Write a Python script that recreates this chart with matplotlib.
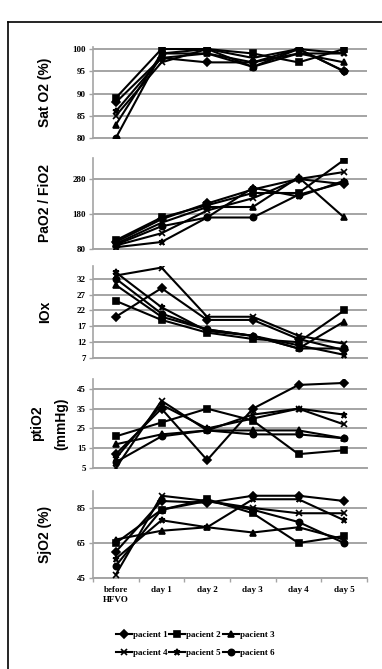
import matplotlib
matplotlib.use('Agg')
import matplotlib.pyplot as plt
from matplotlib.lines import Line2D
import numpy as np

DAYS = ['before\nHFVO', 'day 1', 'day 2', 'day 3', 'day 4', 'day 5']
PACIENTS = ['pacient 1', 'pacient 2', 'pacient 3', 'pacient 4', 'pacient 5', 'pacient 6']
MARKERS = ['D', 's', '^', 'x', '*', 'o']

# values, one row per pacient
SAT_O2 = [
   [88, 98, 97, 97, 100, 95],
   [89, 100, 100, 99, 97, 100],
   [83, 99, 99, 96, 99, 97],
   [85, 97, 100, 98, 100, 99],
   [86, 98, 99, 97, 99, 99],
   [80, 99, 100, 96, 100, 95],
]
PAO2_FIO2 = [
   [100, 165, 210, 250, 280, 265],
   [105, 170, 205, 240, 240, 335],
   [95, 155, 200, 200, 285, 170],
   [90, 125, 190, 225, 280, 300],
   [85, 100, 170, 255, 230, 275],
   [92, 145, 170, 170, 235, 270],
]
IOX = [
   [20, 29, 19, 19, 13, 9.5],
   [25, 19, 15, 13, 12, 22],
   [30, 20, 16, 14, 10, 18.5],
   [33, 35.5, 20, 20, 14, 11.5],
   [34, 23, 15.5, 14, 11, 8],
   [32, 21, 16, 14, 10, 10],
]
PTIO2 = [
   [12, 35, 9, 35, 47, 48],
   [21, 28, 35, 29, 12, 14],
   [17, 22, 24, 24, 24, 20],
   [5, 39, 24, 32, 35, 27],
   [10, 37, 25, 30, 35, 32],
   [8, 21, 24, 22, 22, 20],
]
SJO2 = [
   [60, 89, 88, 92, 92, 89],
   [65, 84, 90, 82, 65, 69],
   [67, 72, 74, 71, 74, 67],
   [47, 92, 89, 85, 82, 82],
   [56, 78, 74, 90, 90, 78],
   [52, 84, 89, 84, 77, 65],
]

# (data, ylabel, yticks, ylim, top px, bottom px)
PANELS = [
   (SAT_O2, 'Sat O2 (%)', [80, 85, 90, 95, 100], (80, 100.5), 46.8, 138),
   (PAO2_FIO2, 'PaO2 / FiO2', [80, 180, 280], (80, 340), 158, 249),
   (IOX, 'IOx', [7, 12, 17, 22, 27, 32], (7, 36), 266, 358),
   (PTIO2, 'ptiO2\n(mmHg)', [5, 15, 25, 35, 45], (5, 50), 379, 468),
   (SJO2, 'SjO2 (%)', [45, 65, 85], (45, 95), 490.5, 578),
]

W, H = 382, 669
GRID = '#a4a4a4'
TICKFONT = dict(family='Liberation Serif', weight='bold', size=6.5)

def main():
   fig = plt.figure(figsize=(W / 100, H / 100), dpi=100)
   fig.patch.set_facecolor('white')
   x = np.arange(len(DAYS))

   for pi, (data, ylab, yt, yl, top, bot) in enumerate(PANELS):
      ax = fig.add_axes([93 / W, 1 - bot / H, (367 - 93) / W, (bot - top) / H])
      for si, row in enumerate(data):
         ax.plot(x, row, color='black', lw=1.5, marker=MARKERS[si], ms=4.5 if MARKERS[si] != 'x' else 5,
                 mew=1.2, mfc='black', mec='black', label=PACIENTS[si], zorder=3)
      ax.set_xlim(-0.5, 5.5)
      ax.set_ylim(*yl)
      ax.set_yticks(yt)
      ax.set_yticklabels([str(t) for t in yt], fontdict=TICKFONT)
      for t in yt:
         ax.axhline(t, color=GRID, lw=1.4, zorder=1)
      for s in ['top', 'right']:
         ax.spines[s].set_visible(False)
      ax.spines['left'].set_color(GRID)
      ax.spines['left'].set_linewidth(1.2)
      ax.spines['bottom'].set_color(GRID)
      ax.spines['bottom'].set_linewidth(1.4)
      ax.tick_params(axis='y', color=GRID, length=3, width=1, pad=2)
      two = '\n' in ylab
      ax.set_ylabel(ylab, fontsize=10, fontweight='bold', family='Liberation Sans', linespacing=1.9 if two else 1.2)
      ax.yaxis.set_label_coords((-25 if two else -41) / 274, 0.5)
      if pi == len(PANELS) - 1:
         ax.set_xticks(x)
         ax.set_xticklabels(DAYS, fontdict=TICKFONT, linespacing=1.2)
         ax.set_xticks(np.arange(-0.5, 5.6, 1), minor=True)
         ax.tick_params(axis='x', which='major', length=0, pad=6)
         ax.tick_params(axis='x', which='minor', length=3, color=GRID, width=1)
      else:
         ax.set_xticks([])

   handles, labels = ax.get_legend_handles_labels()
   # legend fills column by column, so order for rows 1-2-3 / 4-5-6
   order = [0, 3, 1, 4, 2, 5]
   fig.legend([handles[i] for i in order], [labels[i] for i in order], loc='center',
              bbox_to_anchor=(195 / W, 1 - 644 / H), ncol=3,
              frameon=False, prop=dict(family='Liberation Serif', weight='bold', size=6.5),
              handlelength=1.8, handletextpad=0.1, columnspacing=0.2, labelspacing=1.0)

   # frame of the scanned figure
   fig.add_artist(Line2D([8 / W, 8 / W], [0, 1 - 22 / H], color='black', lw=1.2, transform=fig.transFigure))
   fig.add_artist(Line2D([8 / W, 1], [1 - 22 / H, 1 - 22 / H], color='black', lw=1.2, transform=fig.transFigure))

   fig.savefig('out.png', dpi=100)
   plt.close(fig)

if __name__ == '__main__':
   main()
